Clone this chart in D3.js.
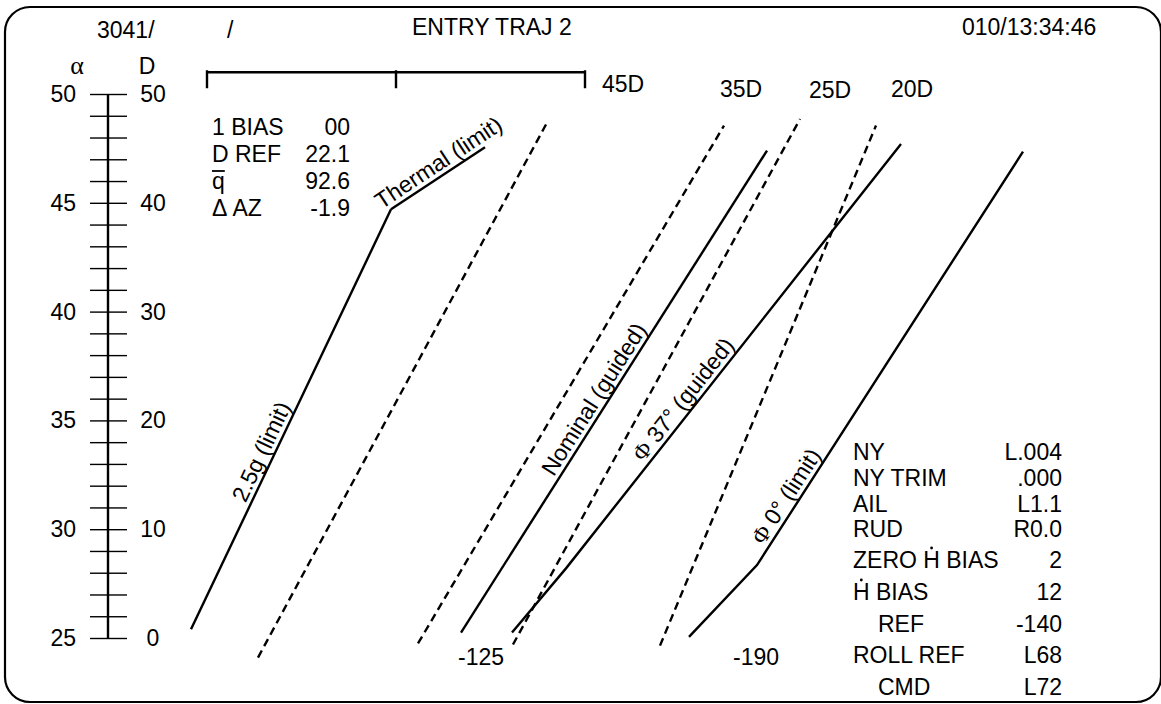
<!DOCTYPE html>
<html>
<head>
<meta charset="utf-8">
<script src="https://cdn.jsdelivr.net/npm/d3@7"></script>
<style>
  body { margin: 0; background: #fff; }
  text { font-family: "Liberation Sans", Arial, sans-serif; font-size: 23px; fill: #000; }
  .serif { font-family: "Liberation Serif", "Times New Roman", serif; }
</style>
</head>
<body>
<div id="traj"></div>
<script>
// ---- data read off the display ----
// alpha (deg) and drag D (ft/s2) scales on the left
let alphaLabels = [25, 30, 35, 40, 45, 50];
let dragLabels = [0, 10, 20, 30, 40, 50];
let alphaMinor = [25, 26, 27, 28, 29, 30, 31, 32, 33, 34, 35, 36, 37, 38, 39,
                  40, 41, 42, 43, 44, 45, 46, 47, 48, 49, 50];

// trajectory lines: [velocity unit, D]
let limit25g   = [[1.1, 0.8], [21.1, 39.4]];
let thermal    = [[21.1, 39.4], [30.5, 45.1]];
let drag45     = [[7.8, -1.8], [36.6, 47.2]];
let drag35     = [[23.8, -0.5], [54.4, 47.1]];
let nominal    = [[28.1, 0.5], [58.7, 44.8]];
let drag25     = [[33.3, -0.6], [62.0, 47.7]];
let phi37      = [[33.2, 0.5], [38.6, 6.4], [72.1, 45.4]];
let drag20     = [[48.0, -0.7], [69.6, 47.1]];
let phi0       = [[50.9, 0.1], [57.7, 6.7], [84.3, 44.7]];

// range bar on top
let barTicks = [2.7, 21.6, 40.5];
let barD = 52;

// labels
let dragLineLabels = [["45D", 42.2, 50.2], ["35D", 54.0, 49.7], ["25D", 62.9, 49.6], ["20D", 71.1, 49.7]];
let bottomLabels = [["-125", 30.1], ["-190", 57.6]];
let header = ["3041/", "/", "ENTRY TRAJ 2", "010/13:34:46"];
let leftParams = [["1 BIAS", "00"], ["D REF", "22.1"], ["q", "92.6"], ["\u0394 AZ", "-1.9"]];
let rightParams = [["NY", "L.004"], ["NY TRIM", ".000"], ["AIL", "L1.1"], ["RUD", "R0.0"],
                   ["ZERO H BIAS", "2"], ["H BIAS", "12"], ["REF", "-140"],
                   ["ROLL REF", "L68"], ["CMD", "L72"]];

// ---- layout ----
let config = {svg: {width: 1161, height: 704}};
let axisX = 108;
let rightRowY = [460, 486, 512, 537, 568, 600, 632, 663, 695];
let indentRows = [6, 8];

let svg = d3.select("#traj").append("svg")
  .attr("width", config.svg.width)
  .attr("height", config.svg.height);

// frame
svg.append("rect")
  .attr("x", 5).attr("y", 7)
  .attr("width", 1156).attr("height", 695)
  .attr("rx", 25)
  .style("fill", "none").style("stroke", "#000").style("stroke-width", 2.2);

let yD = d3.scaleLinear().domain([0, 50]).range([638, 94]);
let yA = d3.scaleLinear().domain([25, 50]).range([638, 94]);
let x = d3.scaleLinear().domain([0, 86]).range([180, 1040]);

// header
let headerPos = [[97, 38], [227, 38], [412, 35], [962, 35]];
svg.selectAll(".hdr").data(header).enter().append("text")
  .attr("class", "hdr")
  .attr("x", (d, i) => headerPos[i][0])
  .attr("y", (d, i) => headerPos[i][1])
  .text(d => d);

// alpha / D axis
let axisG = svg.append("g").attr("transform", "translate(" + axisX + ",0)");
axisG.append("g").call(d3.axisLeft(yA).tickValues(alphaMinor).tickSize(18).tickFormat(""));
axisG.append("g").call(d3.axisRight(yA).tickValues(alphaMinor).tickSize(19).tickFormat(""));
axisG.selectAll(".domain").remove();
axisG.selectAll(".tick line").style("stroke", "#000").style("stroke-width", 1.4);
axisG.append("line")
  .attr("y1", yD(50)).attr("y2", yD(0))
  .style("stroke", "#000").style("stroke-width", 2.4);

svg.append("text").attr("class", "serif").attr("x", 77).attr("y", 74)
  .attr("text-anchor", "middle").style("font-size", "26px").text("\u03b1");
svg.append("text").attr("x", 147).attr("y", 74)
  .attr("text-anchor", "middle").text("D");

svg.selectAll(".alab").data(alphaLabels).enter().append("text")
  .attr("x", 76).attr("y", d => yA(d)).attr("dy", "0.35em")
  .attr("text-anchor", "end").text(d => d);
svg.selectAll(".dlab").data(dragLabels).enter().append("text")
  .attr("x", 153).attr("y", d => yD(d)).attr("dy", "0.35em")
  .attr("text-anchor", "middle").text(d => d);

// top range bar
svg.append("line")
  .attr("x1", x(barTicks[0])).attr("x2", x(barTicks[2]))
  .attr("y1", yD(barD)).attr("y2", yD(barD))
  .style("stroke", "#000").style("stroke-width", 2.4);
svg.selectAll(".barTick").data(barTicks).enter().append("line")
  .attr("x1", d => x(d)).attr("x2", d => x(d))
  .attr("y1", yD(barD) - 2).attr("y2", yD(barD) + 16)
  .style("stroke", "#000").style("stroke-width", 2.4);

// trajectory lines
let line = d3.line().x(d => x(d[0])).y(d => yD(d[1]));
let solids = [limit25g, thermal, nominal, phi37, phi0];
let dashed = [drag45, drag35, drag25, drag20];
svg.selectAll(".solid").data(solids).enter().append("path")
  .attr("d", line)
  .style("fill", "none").style("stroke", "#000").style("stroke-width", 2.4);
svg.selectAll(".dash").data(dashed).enter().append("path")
  .attr("d", line)
  .style("fill", "none").style("stroke", "#000").style("stroke-width", 2.4)
  .style("stroke-dasharray", "8,5");

// labels riding on the lines
function onSegment(seg, t) {
  let x0 = x(seg[0][0]), y0 = yD(seg[0][1]);
  let x1 = x(seg[1][0]), y1 = yD(seg[1][1]);
  let ang = Math.atan2(y1 - y0, x1 - x0) * 180 / Math.PI;
  return "translate(" + (x0 + t * (x1 - x0)) + "," + (y0 + t * (y1 - y0)) + ") rotate(" + ang + ")";
}
function lineLabel(seg, t, parts) {
  let tx = svg.append("text")
    .attr("transform", onSegment(seg, t))
    .attr("text-anchor", "middle")
    .attr("y", -5);
  parts.forEach(function(p) {
    let s = tx.append("tspan").text(p[0]);
    if (p[1]) s.attr("class", "serif");
  });
}
lineLabel(limit25g, 0.41, [["2.5g (limit)"]]);
lineLabel(thermal, 0.58, [["Thermal (limit)"]]);
lineLabel(nominal, 0.47, [["Nominal (guided)"]]);
lineLabel([phi37[1], phi37[2]], 0.38, [["\u03a6", true], [" 37\u00b0 (guided)"]]);
lineLabel([phi0[1], phi0[2]], 0.15, [["\u03a6", true], [" 0\u00b0 (limit)"]]);

svg.selectAll(".dll").data(dragLineLabels).enter().append("text")
  .attr("x", d => x(d[1])).attr("y", d => yD(d[2]))
  .text(d => d[0]);
svg.selectAll(".bl").data(bottomLabels).enter().append("text")
  .attr("x", d => x(d[1])).attr("y", 665)
  .attr("text-anchor", "middle")
  .text(d => d[0]);

// parameter block, upper left
let lp = svg.append("g");
leftParams.forEach(function(r, i) {
  let yy = 135 + i * 27;
  let t = lp.append("text").attr("x", 212).attr("y", yy).text(r[0]);
  lp.append("text").attr("x", 350).attr("y", yy).attr("text-anchor", "end").text(r[1]);
  if (r[0] == "q") {
    let b = t.node().getExtentOfChar(0);
    lp.append("line")
      .attr("x1", b.x).attr("x2", b.x + b.width)
      .attr("y1", yy - 18).attr("y2", yy - 18)
      .style("stroke", "#000").style("stroke-width", 1.8);
  }
});

// parameter block, lower right
let rp = svg.append("g");
rightParams.forEach(function(r, i) {
  let yy = rightRowY[i];
  let xx = indentRows.indexOf(i) >= 0 ? 878 : 853;
  let t = rp.append("text").attr("x", xx).attr("y", yy).text(r[0]);
  rp.append("text").attr("x", 1062).attr("y", yy).attr("text-anchor", "end").text(r[1]);
  let h = r[0].indexOf("H");
  if (h >= 0) {
    let b = t.node().getExtentOfChar(h);
    rp.append("circle")
      .attr("cx", b.x + b.width / 2).attr("cy", yy - 20).attr("r", 1.4)
      .style("fill", "#000");
  }
});
</script>
</body>
</html>
